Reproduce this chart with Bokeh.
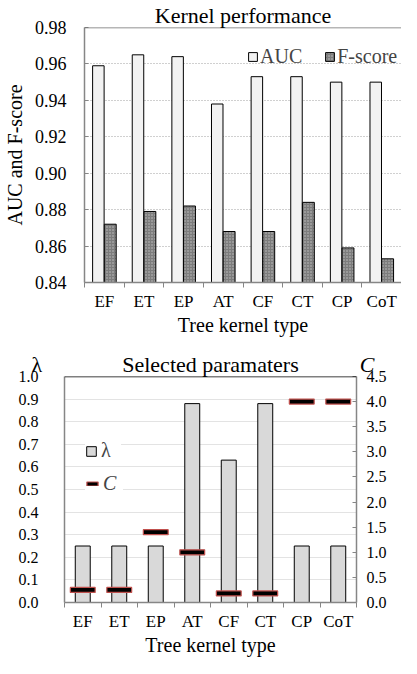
from bokeh.plotting import figure
from bokeh.models import (Range1d, LinearAxis, FixedTicker, Legend, LegendItem,
                          Span, Title, PrintfTickFormatter)
from bokeh.layouts import column
from bokeh.embed import file_html
from bokeh.resources import INLINE

# ---------------- data ----------------
kernels = ["EF", "ET", "EP", "AT", "CF", "CT", "CP", "CoT"]
auc = [0.959, 0.965, 0.964, 0.938, 0.953, 0.953, 0.950, 0.950]
fscore = [0.872, 0.879, 0.882, 0.868, 0.868, 0.884, 0.859, 0.853]
lam = [0.25, 0.25, 0.25, 0.88, 0.63, 0.88, 0.25, 0.25]
c_param = [0.25, 0.25, 1.4, 1.0, 0.18, 0.18, 4.0, 4.0]
perf_ticks = [0.84, 0.86, 0.88, 0.90, 0.92, 0.94, 0.96, 0.98]
lam_ticks = [0.0, 0.1, 0.2, 0.3, 0.4, 0.5, 0.6, 0.7, 0.8, 0.9, 1.0]
c_ticks = [0.0, 0.5, 1.0, 1.5, 2.0, 2.5, 3.0, 3.5, 4.0, 4.5]

FONT = "Liberation Serif"
AX = "#868686"
TITLE_H = 27  # approx. height of a 22px title box
n = len(kernels)
centers = [i + 0.5 for i in range(n)]
bounds = [i for i in range(n + 1)]
overrides = {c: k for c, k in zip(centers, kernels)}


def style_xaxis(ax):
    ax.ticker = FixedTicker(ticks=centers, minor_ticks=bounds)
    ax.major_label_overrides = overrides
    ax.major_tick_line_color = None
    ax.major_tick_in = 0
    ax.major_tick_out = 0
    ax.minor_tick_line_color = AX
    ax.minor_tick_in = 0
    ax.minor_tick_out = 5
    ax.axis_line_color = AX
    ax.axis_line_width = 1.5
    ax.major_label_text_font = FONT
    ax.major_label_text_font_size = "17px"
    ax.major_label_text_color = "black"
    ax.major_label_standoff = 4
    ax.axis_label = "Tree kernel type"
    ax.axis_label_text_font = FONT
    ax.axis_label_text_font_size = "20px"
    ax.axis_label_text_font_style = "normal"
    ax.axis_label_text_color = "black"
    ax.axis_label_standoff = 0


def make_title(text, align="center", offset=0, standoff=0, italic=False):
    return Title(text=text, align=align, offset=offset, standoff=standoff,
                 text_font=FONT, text_font_size="22px",
                 text_font_style="italic" if italic else "normal", text_color="black")


# ---------------- top chart ----------------
p1 = figure(width=401, height=338, x_range=Range1d(0, n), y_range=Range1d(perf_ticks[0], perf_ticks[-1]),
            output_backend="svg", toolbar_location=None,
            min_border_left=74, min_border_right=0, min_border_top=10, min_border_bottom=10)
p1.frame_align = False
p1.title = make_title("Kernel performance")
p1.outline_line_color = None
p1.xgrid.grid_line_color = None
p1.ygrid.grid_line_color = "#a0a0a0"
p1.ygrid.grid_line_dash = "1 2"

style_xaxis(p1.xaxis[0])
ya = p1.yaxis[0]
ya.ticker = FixedTicker(ticks=perf_ticks)
ya.formatter = PrintfTickFormatter(format="%.2f")
ya.axis_line_color = AX
ya.axis_line_width = 1.5
ya.major_tick_line_color = AX
ya.major_tick_in = 4
ya.major_tick_out = 0
ya.minor_tick_line_color = None
ya.major_label_text_font = FONT
ya.major_label_text_font_size = "18px"
ya.major_label_text_color = "black"
ya.major_label_standoff = 18
ya.axis_label = "AUC and F-score"
ya.axis_label_text_font = FONT
ya.axis_label_text_font_size = "20px"
ya.axis_label_text_font_style = "normal"
ya.axis_label_text_color = "black"
ya.axis_label_standoff = 6

p1.add_layout(Span(location=perf_ticks[-1], dimension="width", line_color="#6e6e6e", line_width=1.5))

r_auc = p1.vbar(x=[c - 0.15 for c in centers], top=auc, bottom=perf_ticks[0], width=0.29,
                fill_color="#f2f2f2", line_color="black", line_width=1)
r_f = p1.vbar(x=[c + 0.15 for c in centers], top=fscore, bottom=perf_ticks[0], width=0.3,
              fill_color="#7c7c7c", line_color="black", line_width=1,
              hatch_pattern="dot", hatch_color="#c4c4c4", hatch_scale=3, hatch_weight=1)

leg1 = Legend(items=[LegendItem(label="AUC", renderers=[r_auc]),
                     LegendItem(label="F-score", renderers=[r_f])],
              orientation="horizontal", location=(163, 214),
              border_line_color=None, background_fill_alpha=0,
              glyph_width=11, glyph_height=11, label_standoff=2, spacing=22,
              label_text_font=FONT, label_text_font_size="20px", label_height=20,
              padding=0, margin=0)
p1.add_layout(leg1)

# ---------------- bottom chart ----------------
p2 = figure(width=401, height=320, x_range=Range1d(0, n), y_range=Range1d(lam_ticks[0], lam_ticks[-1]),
            output_backend="svg", toolbar_location=None,
            min_border_left=64, min_border_right=45, min_border_top=38, min_border_bottom=10)
p2.frame_align = False
p2.extra_y_ranges = {"c": Range1d(c_ticks[0], c_ticks[-1])}
p2.title = None
p2.add_layout(make_title("Selected paramaters"), "above")
p2.add_layout(make_title("λ", align="left", offset=-33, standoff=-2 * TITLE_H), "above")
p2.add_layout(make_title("C", align="right", offset=-18, standoff=-2 * TITLE_H, italic=True), "above")
p2.outline_line_color = None
p2.xgrid.grid_line_color = None
p2.ygrid.grid_line_color = "#e3e3e3"
p2.ygrid.grid_line_width = 1

style_xaxis(p2.xaxis[0])
la = p2.yaxis[0]
la.ticker = FixedTicker(ticks=lam_ticks)
la.formatter = PrintfTickFormatter(format="%.1f")
la.axis_line_color = AX
la.axis_line_width = 1.5
la.major_tick_line_color = None
la.minor_tick_line_color = None
la.major_label_text_font = FONT
la.major_label_text_font_size = "16px"
la.major_label_text_color = "black"
la.major_label_standoff = 20

ra = LinearAxis(y_range_name="c")
ra.ticker = FixedTicker(ticks=c_ticks)
ra.formatter = PrintfTickFormatter(format="%.1f")
ra.axis_line_color = AX
ra.axis_line_width = 1.5
ra.major_tick_line_color = AX
ra.major_tick_in = 4
ra.major_tick_out = 0
ra.minor_tick_line_color = None
ra.major_label_text_font = FONT
ra.major_label_text_font_size = "16px"
ra.major_label_text_color = "black"
ra.major_label_standoff = 10
p2.add_layout(ra, "right")

p2.add_layout(Span(location=lam_ticks[-1], dimension="width", line_color="black", line_width=1.5))

r_lam = p2.vbar(x=centers, top=lam, width=0.41, fill_color="#d9d9d9", line_color="black", line_width=1)
r_c = p2.rect(x=centers, y=c_param, width=0.68, height=5, height_units="screen",
              fill_color="black", line_color="#c0504d", line_width=1.2, y_range_name="c")

legA = Legend(items=[LegendItem(label="λ", renderers=[r_lam])], location=(21, 140),
              border_line_color=None, background_fill_color="white", background_fill_alpha=1,
              glyph_width=12, glyph_height=12, label_standoff=4,
              label_text_font=FONT, label_text_font_size="20px", label_height=20,
              padding=6, margin=0)
legB = Legend(items=[LegendItem(label="C", renderers=[r_c])], location=(21, 107),
              border_line_color=None, background_fill_color="white", background_fill_alpha=1,
              glyph_width=14, glyph_height=5, label_standoff=4,
              label_text_font=FONT, label_text_font_size="20px", label_text_font_style="italic",
              label_height=20, padding=6, margin=0)
p2.add_layout(legA)
p2.add_layout(legB)

layout = column(p1, p2, spacing=0)
open("out.html", "w").write(file_html(layout, INLINE))
